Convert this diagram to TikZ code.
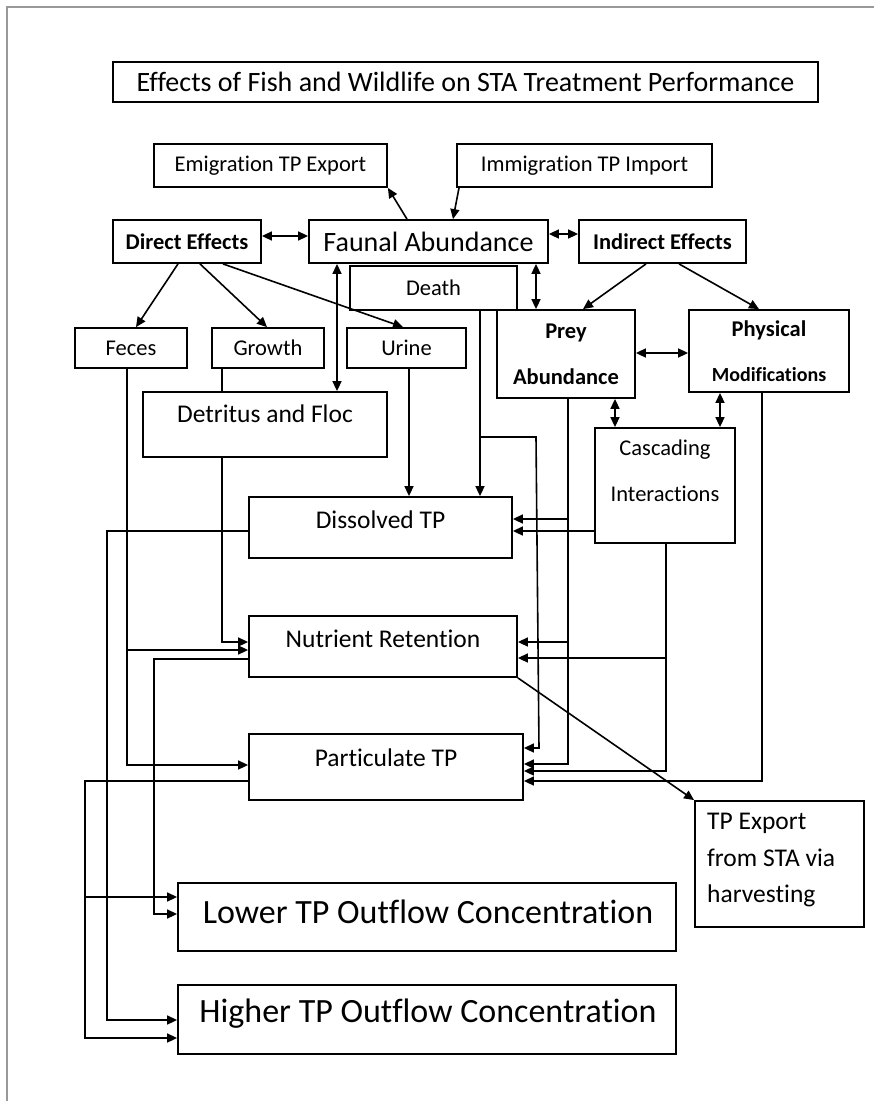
\documentclass[tikz,border=0pt]{standalone}
\usepackage{fontspec}
\setmainfont{Carlito}[Ligatures=NoCommon]
\usetikzlibrary{arrows.meta}
\begin{document}
\begin{tikzpicture}[x=1pt,y=-1pt,
  box/.style={draw, line width=1.8pt, inner sep=0pt, align=center},
  txt/.style={inner sep=0pt, align=center},
  f22/.style={font=\fontsize{22.5}{27}\selectfont},
  b22/.style={font=\fontsize{22.5}{27}\selectfont\bfseries},
  f25/.style={font=\fontsize{25.5}{30}\selectfont},
  f28/.style={font=\fontsize{28}{33}\selectfont},
  f34/.style={font=\fontsize{34}{40}\selectfont},
  conn/.style={line width=1.6pt},
  arr/.style={conn, -{Triangle[length=10pt,width=9pt]}},
  darr/.style={conn, {Triangle[length=10pt,width=9pt]}-{Triangle[length=10pt,width=9pt]}},
]
\fill[white] (0,0) rectangle (874,1101);
\useasboundingbox (0,0) rectangle (874,1101);
% page frame
\draw[gray!80, line width=2pt] (7,1101) -- (7,7) -- (874,7);

% title
\node[box, f28, minimum width=705pt, minimum height=40pt] (title) at (465.5,82)
  {Effects of Fish and Wildlife on STA Treatment Performance};

% migration
\node[box, f22, minimum width=233pt, minimum height=43pt] (emig) at (270.5,165.5) {Emigration TP Export};
\node[box, f22, minimum width=255pt, minimum height=43pt] (immig) at (584.5,165.5) {Immigration TP Import};

% effects row
\node[box, b22, minimum width=148pt, minimum height=43pt] (direct) at (187,241.5) {Direct Effects};
\node[box, f28, minimum width=239pt, minimum height=43pt] (faunal) at (428.5,241.5) {Faunal Abundance};
\node[box, b22, minimum width=167pt, minimum height=43pt] (indirect) at (662.5,241.5) {Indirect Effects};
\node[box, f22, minimum width=167pt, minimum height=44pt] (death) at (433.5,288) {Death};

% direct products
\node[box, f22, minimum width=112pt, minimum height=40pt] (feces) at (131,348) {Feces};
\node[box, f22, minimum width=112pt, minimum height=40pt] (growth) at (268,348) {Growth};
\node[box, f22, minimum width=119pt, minimum height=40pt] (urine) at (406.5,348) {Urine};
\node[box, minimum width=244pt, minimum height=65pt] (detritus) at (265,424.5) {};
\node[txt, f25] (detritus-t) at (265,414) {Detritus and Floc};

% indirect pathways
\node[box, font=\fontsize{22.5}{46}\selectfont\bfseries, minimum width=138pt, minimum height=88pt] (prey) at (566,354) {Prey\\Abundance};
\node[box, font=\fontsize{22.5}{45}\selectfont\bfseries, minimum width=160pt, minimum height=82pt] (phys) at (769,351)
  {Physical\\{\fontsize{20}{45}\selectfont Modifications}};
\node[box, minimum width=140pt, minimum height=115pt] (casc) at (665,485.5) {};
\node[txt, font=\fontsize{22.5}{46}\selectfont] (casc-t) at (665,471) {Cascading\\Interactions};

% phosphorus pools
\node[box, minimum width=263pt, minimum height=61pt] (dtp) at (380.5,527.5) {};
\node[txt, f25] (dtp-t) at (380.5,519.5) {Dissolved TP};
\node[box, minimum width=268pt, minimum height=61pt] (nr) at (383,646.5) {};
\node[txt, f25] (nr-t) at (383,639) {Nutrient Retention};
\node[box, minimum width=274pt, minimum height=66pt] (ptp) at (386,767) {};
\node[txt, f25] (ptp-t) at (386,758) {Particulate TP};

% export by harvest
\node[box, minimum width=169pt, minimum height=126pt] (export) at (779.5,864) {};
\node[txt, align=left, anchor=west, font=\fontsize{25.5}{36.5}\selectfont] (export-t) at (707,860)
  {TP Export\\from STA via\\harvesting};

% outcomes
\node[box, minimum width=498pt, minimum height=68pt] (lower) at (427,917) {};
\node[txt, f34] (lower-t) at (428,911.5) {Lower TP Outflow Concentration};
\node[box, minimum width=498pt, minimum height=69pt] (higher) at (427,1019.5) {};
\node[txt, f34] (higher-t) at (428,1013.5) {Higher TP Outflow Concentration};

% branch points
\coordinate (fecesB) at (127,650);
\coordinate (deathB) at (480,437);
\coordinate (preyB1) at (568,519);
\coordinate (preyB2) at (568,642);
\coordinate (cascB) at (666,658);
\coordinate (ptpB) at (85,897);

% migration links
\draw[arr] (faunal.north -| 407,0) -- (emig.south east);
\draw[arr] (immig.south -| 459,0) -- (faunal.north -| 453,0);

% effects links
\draw[darr] (direct.east |- 0,236) -- (faunal.west |- 0,236);
\draw[darr] (faunal.east |- 0,234) -- (indirect.west |- 0,234);
\draw[arr] (direct.south -| 178,0) -- (feces.north -| 136,0);
\draw[arr] (direct.south -| 200,0) -- (growth.north -| 267,0);
\draw[arr] (direct.south -| 223,0) -- (urine.north -| 403,0);
\draw[darr] (faunal.south -| 337,0) -- (detritus.north -| 337,0);
\draw[darr] (faunal.south -| 536,0) -- (prey.north -| 536,0);
\draw[arr] (indirect.south -| 646,0) -- (prey.north -| 583,0);
\draw[arr] (indirect.south -| 679,0) -- (phys.north -| 759,0);
\draw[darr] (prey.east |- 0,353) -- (phys.west |- 0,353);
\draw[darr] (prey.south -| 615,0) -- (casc.north -| 615,0);
\draw[darr] (phys.south -| 720,0) -- (casc.north -| 720,0);

% into the phosphorus pools
\draw[conn] (growth.south -| 222,0) -- (detritus.north -| 222,0);
\draw[arr] (detritus.south -| 222,0) |- (nr.west |- 0,642);
\draw[arr] (feces.south -| 127,0) |- (ptp.west |- 0,765);
\draw[arr] (fecesB) -- (nr.west |- fecesB);
\draw[arr] (urine.south -| 409,0) -- (dtp.north -| 409,0);
\draw[arr] (death.south -| 480,0) -- (dtp.north -| 480,0);
\draw[arr] (deathB) -- (536,437) -- (539,748) -- (ptp.east |- 0,748);
\draw[arr] (prey.south -| 568,0) |- (ptp.east |- 0,764);
\draw[arr] (preyB1) -- (dtp.east |- preyB1);
\draw[arr] (preyB2) -- (nr.east |- preyB2);
\draw[arr] (casc.west |- 0,531) -- (dtp.east |- 0,531);
\draw[arr] (casc.south -| 666,0) |- (ptp.east |- 0,771);
\draw[arr] (cascB) -- (nr.east |- cascB);
\draw[arr] (phys.south -| 762,0) |- (ptp.east |- 0,781);
\draw[arr] (nr.south east) -- (export.north west);

% outflow links
\draw[arr] (dtp.west |- 0,531) -| (107,1020) -- (higher.west |- 0,1020);
\draw[arr] (nr.west |- 0,659) -| (154,914) -- (lower.west |- 0,914);
\draw[arr] (ptp.west |- 0,781) -| (85,1038) -- (higher.west |- 0,1038);
\draw[arr] (ptpB) -- (lower.west |- ptpB);
\end{tikzpicture}
\end{document}
